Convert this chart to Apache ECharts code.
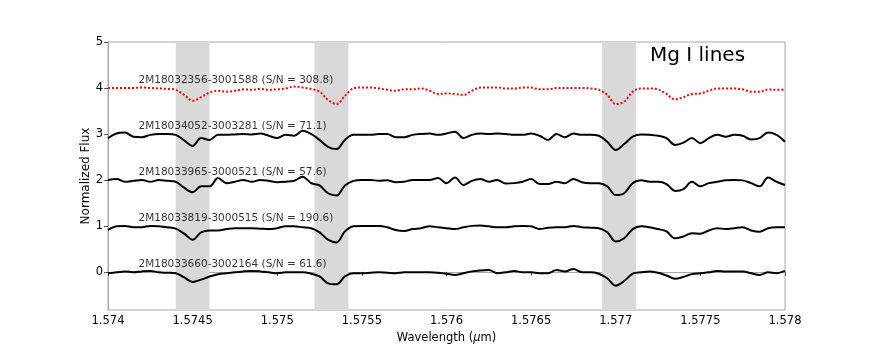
<!DOCTYPE html>
<html>
<head>
<meta charset="utf-8">
<script src="https://cdn.jsdelivr.net/npm/echarts@6/dist/echarts.min.js"></script>
<style>
html, body { margin: 0; background: #fff; }
#chart { width: 872px; height: 349px; }
</style>
</head>
<body>
<div id="chart"></div>
<script>
// wavelength grid (micron) the spectra were read on
var waveStart = 1.574, waveStep = 0.00005

var stars = [
  '2M18032356-3001588 (S/N = 308.8)',
  '2M18034052-3003281 (S/N = 71.1)',
  '2M18033965-3000521 (S/N = 57.6)',
  '2M18033819-3000515 (S/N = 190.6)',
  '2M18033660-3002164 (S/N = 61.6)'
]
var offsets = [4, 3, 2, 1, 0]
var yTicks = [0, 1, 2, 3, 4, 5]

// normalized flux minus 1
var resid0 = [0,0,0,0,0.01,0,-0.01,-0.02,-0.04,-0.15,
  -0.28,-0.2,-0.1,-0.06,-0.08,-0.06,-0.03,-0.04,-0.02,-0.04,
  -0.03,-0.01,0.03,0.01,-0.02,-0.08,-0.26,-0.35,-0.17,-0.01,
  0.01,0.01,-0.01,-0.04,-0.06,-0.03,-0.03,-0.01,-0.06,-0.13,
  -0.12,-0.13,-0.15,-0.06,0.01,0.01,0.01,-0.01,-0.01,0.01,
  0.01,-0.03,-0.03,0,0,0,0,-0.01,-0.04,-0.15,
  -0.35,-0.3,-0.08,-0.01,-0.01,-0.03,-0.13,-0.25,-0.2,-0.13,
  -0.12,-0.06,-0.01,-0.01,-0.01,-0.03,-0.08,-0.08,-0.03,-0.04,-0.04]
var resid1 = [-0.09,0.01,0.03,-0.06,-0.07,-0.02,0,0,-0.02,-0.14,
  -0.26,-0.09,-0.13,-0.02,-0.02,-0.01,0,-0.01,0.01,-0.04,
  -0.09,-0.02,-0.04,0.07,0,-0.13,-0.28,-0.33,-0.13,-0.02,
  -0.02,-0.02,0,0,-0.07,-0.07,-0.02,0,0.01,-0.02,
  0.01,0.05,-0.09,-0.02,0.01,0,0.01,0,-0.02,-0.02,
  0.01,-0.04,-0.13,0,-0.07,0.01,-0.02,-0.02,-0.04,-0.17,
  -0.35,-0.22,-0.06,-0.01,-0.02,-0.04,-0.09,-0.24,-0.19,-0.09,
  -0.2,-0.09,-0.02,-0.06,-0.02,-0.04,-0.12,-0.09,0.03,-0.02,-0.17]
var resid2 = [0,0.02,-0.04,-0.02,0,-0.04,0,-0.02,-0.04,-0.17,
  -0.27,-0.14,-0.14,0.04,-0.07,-0.04,0,-0.04,0,-0.02,
  -0.05,-0.04,-0.02,0.07,-0.07,-0.12,-0.29,-0.34,-0.12,-0.02,
  0,0,-0.02,-0.01,-0.05,-0.04,0,0,0,0.04,
  -0.07,0.05,-0.11,-0.02,0.02,-0.04,0,-0.08,-0.07,-0.04,
  0.02,-0.09,-0.09,-0.04,-0.07,0.02,-0.05,-0.07,-0.07,-0.14,
  -0.33,-0.29,-0.07,-0.01,-0.04,-0.04,-0.09,-0.24,-0.2,-0.04,
  -0.14,-0.07,-0.04,-0.01,0,-0.01,-0.07,-0.14,0.05,-0.04,-0.11]
var resid3 = [-0.09,-0.01,0,-0.03,-0.03,0,-0.01,-0.03,-0.06,-0.17,
  -0.3,-0.14,-0.1,-0.1,-0.07,-0.05,-0.05,-0.05,-0.06,-0.07,
  -0.05,-0.01,-0.01,-0.03,-0.05,-0.14,-0.3,-0.36,-0.12,-0.01,
  0,0,0,-0.03,-0.09,-0.11,-0.07,-0.05,-0.01,-0.03,
  -0.05,-0.07,-0.03,0,0.01,-0.01,-0.03,-0.03,-0.01,0,
  -0.01,-0.07,-0.04,-0.03,-0.03,0,-0.03,-0.04,-0.05,-0.14,
  -0.34,-0.27,-0.07,-0.01,-0.03,-0.07,-0.12,-0.27,-0.23,-0.16,
  -0.17,-0.1,-0.05,-0.07,-0.05,-0.03,-0.1,-0.13,-0.05,-0.03,-0.03]
var resid4 = [-0.03,-0.01,0.01,-0.01,0.01,0.02,-0.01,-0.02,-0.03,-0.12,
  -0.22,-0.17,-0.1,-0.05,-0.03,-0.01,0.01,0.02,0.01,-0.01,
  -0.03,-0.01,-0.01,-0.01,-0.04,-0.1,-0.25,-0.27,-0.1,-0.03,
  -0.03,-0.02,-0.01,-0.02,-0.03,-0.01,-0.01,-0.01,-0.01,-0.02,
  -0.04,-0.07,-0.03,0.01,0.03,0.04,-0.03,-0.01,0.02,-0.01,
  -0.01,-0.03,-0.03,0.04,0.01,0.06,-0.01,-0.01,-0.04,-0.14,
  -0.3,-0.2,-0.04,-0.01,0.01,-0.02,-0.08,-0.15,-0.11,-0.05,
  -0.03,-0.01,0.02,0.01,0.01,0.01,-0.03,-0.07,-0.01,-0.03,0.02]
var resids = [resid0, resid1, resid2, resid3, resid4]

// Mg I line windows
var bands = [[1.5744, 1.5746], [1.57522, 1.57542], [1.57692, 1.57712]]

var labelX = 1.57418
var labelLift = 0.17

var myChart = echarts.init(document.getElementById('chart'))

var series = []
resids.forEach(function (r, k) {
  var s = {
    name: stars[k],
    type: 'line',
    smooth: 0.35,
    symbol: 'none',
    data: r.map(function (v, i) { return [waveStart + i * waveStep, offsets[k] + v] }),
    lineStyle: k === 0
      ? { color: '#ff0000', width: 2, type: [2, 2] }
      : { color: '#000', width: 2 },
    z: 3
  }
  if (k === 0) {
    s.markArea = {
      silent: true,
      itemStyle: { color: '#d9d9d9' },
      data: bands.map(function (b) { return [{ xAxis: b[0] }, { xAxis: b[1] }] })
    }
  }
  series.push(s)
})
series.push({
  type: 'scatter',
  symbolSize: 0,
  silent: true,
  z: 4,
  data: stars.map(function (s, k) { return { value: [labelX, offsets[k] + labelLift], name: s } }),
  label: {
    show: true,
    position: 'right',
    distance: 0,
    formatter: '{b}',
    color: '#000',
    fontSize: 10.5
  }
})

var axisGray = '#a8a8a8'
var option = {
  animation: false,
  textStyle: { fontFamily: 'DejaVu Sans' },
  grid: { left: 108, right: 87, top: 42, bottom: 39, show: true, borderColor: axisGray, borderWidth: 1 },
  xAxis: {
    type: 'value',
    min: 1.574,
    max: 1.578,
    interval: 0.0005,
    name: 'Wavelength ({i|μ}m)',
    nameLocation: 'middle',
    nameGap: 20,
    nameTextStyle: { color: '#000', fontSize: 11.5, rich: { i: { fontStyle: 'italic', fontSize: 11.5 } } },
    axisLine: { lineStyle: { color: axisGray } },
    axisTick: { length: 4, lineStyle: { color: '#555' } },
    splitLine: { show: false },
    axisLabel: {
      color: '#000',
      fontSize: 11.5,
      margin: 5,
      formatter: function (v) { return String(parseFloat(v.toFixed(4))) }
    }
  },
  yAxis: {
    type: 'value',
    min: -0.83,
    max: 5,
    name: 'Normalized Flux',
    nameLocation: 'middle',
    nameGap: 16,
    nameMoveOverlap: false,
    nameTextStyle: { color: '#000', fontSize: 12 },
    axisLine: { show: true, lineStyle: { color: axisGray } },
    axisTick: { show: true, length: 4, customValues: yTicks, lineStyle: { color: '#555' } },
    splitLine: { show: false },
    axisLabel: { color: '#000', fontSize: 11.5, margin: 5, customValues: yTicks }
  },
  graphic: [{
    type: 'text',
    left: 650,
    top: 46,
    style: { text: 'Mg I lines', fontSize: 20, fill: '#000', fontFamily: 'DejaVu Sans' }
  }],
  series: series
}
myChart.setOption(option)
window.addEventListener('resize', function () {
  myChart.resize()
})
</script>
</body>
</html>
